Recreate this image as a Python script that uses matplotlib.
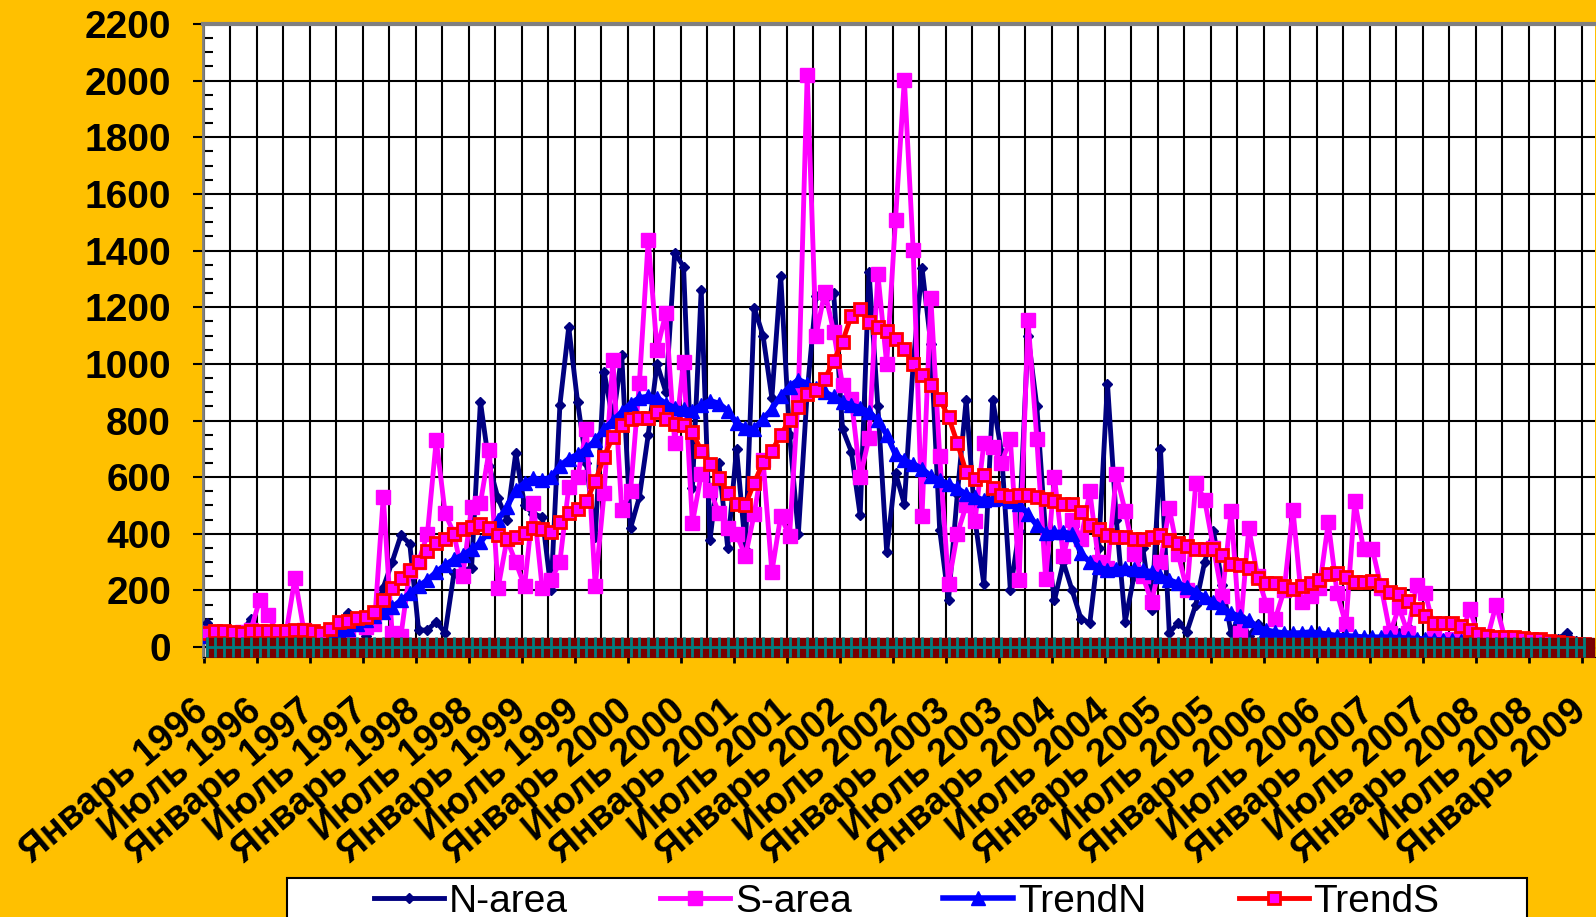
import numpy as np
import matplotlib.pyplot as plt
from matplotlib import font_manager, transforms
from matplotlib.patches import Rectangle

# monthly values, Jan 1996 .. Jan 2009
n_area = [85, 40, 20, 25, 50, 100, 40, 20, 15, 20,
          30, 25, 20, 40, 60, 90, 120, 80, 40, 110,
          210, 300, 395, 365, 60, 60, 90, 50, 260, 270,
          280, 867, 640, 525, 450, 685, 500, 470, 460, 201,
          855, 1130, 866, 650, 390, 973, 800, 1032, 420, 530,
          750, 1000, 900, 1392, 1343, 560, 1262, 378, 650, 350,
          700, 348, 1198, 1100, 880, 1311, 750, 400, 900, 1240,
          1230, 1250, 770, 690, 465, 1325, 850, 336, 615, 505,
          1000, 1340, 1070, 415, 166, 540, 873, 450, 222, 873,
          690, 202, 410, 1100, 850, 400, 165, 300, 200, 100,
          85, 350, 930, 450, 90, 250, 350, 130, 700, 50,
          85, 55, 150, 300, 410, 220, 50, 110, 40, 80,
          30, 20, 25, 15, 20, 30, 20, 15, 20, 25,
          20, 30, 25, 20, 30, 50, 70, 30, 20, 15,
          20, 15, 20, 25, 15, 20, 15, 20, 15, 10,
          15, 20, 15, 30, 49, 20, 15]
s_area = [50, 55, 50, 45, 55, 60, 166, 113, 50, 50,
          244, 60, 50, 30, 20, 40, 60, 80, 70, 80,
          530, 50, 40, 270, 300, 400, 731, 474, 400, 250,
          495, 508, 696, 208, 380, 300, 215, 508, 208, 236,
          301, 565, 600, 769, 215, 543, 1014, 484, 550, 932,
          1438, 1050, 1180, 720, 1008, 437, 610, 555, 473, 420,
          400, 320, 470, 660, 265, 463, 392, 890, 2020, 1100,
          1255, 1113, 925, 876, 600, 739, 1318, 1000, 1509, 2004,
          1403, 463, 1233, 676, 223, 400, 500, 445, 720, 707,
          650, 735, 236, 1156, 735, 240, 600, 320, 450, 380,
          550, 300, 280, 610, 480, 330, 250, 160, 300, 490,
          330, 200, 580, 520, 350, 180, 480, 50, 420, 250,
          150, 100, 200, 485, 160, 180, 210, 440, 190, 80,
          515, 345, 345, 210, 50, 140, 50, 220, 190, 60,
          20, 30, 30, 135, 40, 30, 150, 30, 20, 10,
          10, 5, 5, 5, 5, 5, 5]
trend_n = [40, 40, 40, 40, 40, 40, 40, 40, 40, 40,
           40, 40, 40, 45, 50, 53, 65, 80, 95, 110,
           125, 140, 165, 190, 215, 237, 265, 290, 310, 325,
           345, 370, 410, 450, 495, 555, 580, 597, 590, 600,
           640, 665, 680, 700, 730, 770, 800, 830, 860, 880,
           885, 880, 860, 845, 840, 835, 855, 870, 860, 835,
           790, 775, 770, 805, 840, 887, 920, 944, 930, 915,
           900, 885, 866, 855, 845, 830, 802, 750, 680, 660,
           647, 630, 604, 590, 576, 560, 540, 530, 519, 522,
           527, 515, 505, 470, 430, 403, 405, 405, 400, 332,
           300, 283, 272, 275, 279, 275, 272, 265, 250, 237,
           225, 212, 195, 177, 160, 140, 120, 108, 95, 71,
           60, 53, 50, 49, 50, 53, 50, 45, 40, 40,
           38, 35, 35, 35, 35, 33, 32, 30, 28, 26,
           25, 24, 23, 22, 21, 20, 19, 18, 17, 16,
           15, 14, 13, 12, 11, 10, 10]
trend_s = [50, 57, 57, 53, 50, 57, 57, 57, 57, 57,
           60, 60, 57, 50, 64, 88, 92, 102, 106, 124,
           166, 208, 244, 272, 300, 339, 367, 382, 400, 417,
           424, 436, 421, 394, 382, 389, 403, 421, 417, 408,
           442, 474, 488, 516, 585, 672, 742, 785, 806, 809,
           809, 830, 806, 788, 785, 760, 693, 647, 597, 544,
           505, 502, 580, 652, 693, 749, 802, 848, 894, 908,
           947, 1011, 1078, 1170, 1194, 1149, 1131, 1117, 1088, 1053,
           1000, 961, 926, 876, 813, 721, 618, 594, 608, 562,
           537, 534, 537, 537, 530, 523, 516, 505, 505, 477,
           431, 417, 396, 389, 389, 382, 382, 389, 396, 378,
           367, 357, 346, 346, 346, 325, 293, 290, 279, 244,
           226, 226, 216, 205, 216, 226, 238, 258, 262, 247,
           230, 230, 233, 219, 194, 187, 163, 134, 110, 85,
           85, 85, 74, 60, 46, 39, 35, 35, 35, 32,
           28, 28, 22, 18, 15, 12, 10]
years = list(range(1996, 2009))
tick_labels = []
for y in years:
    tick_labels += ['Январь %d' % y, 'Июль %d' % y]
tick_labels.append('Январь 2009')
series_names = ['N-area', 'S-area', 'TrendN', 'TrendS']

names = {f.name for f in font_manager.fontManager.ttflist}
narrow = 'Liberation Sans Narrow' in names
leg_family = 'Liberation Sans Narrow' if narrow else 'Liberation Sans'
leg_size = 34 if narrow else 28

W, H = 1596, 917
fig = plt.figure(figsize=(W / 100, H / 100), dpi=100, facecolor='#FFC000')
ax = fig.add_axes([203 / W, 1 - 657 / H, (1595 - 203) / W, (657 - 24) / H])
ax.set_facecolor('white')

months = np.arange(len(n_area))
x = months + 0.3

l1, = ax.plot(x, n_area, color='#000080', lw=3.5, marker='D', ms=5, zorder=3)
l2, = ax.plot(x, s_area, color='#FF00FF', lw=3.5, marker='s', ms=9.5, zorder=4)
l3, = ax.plot(x, trend_n, color='#0000FF', lw=4, marker='^', ms=10.5, zorder=5)
l4, = ax.plot(x, trend_s, color='#FF0000', lw=3.5, marker='s', ms=8.5,
              mfc='#FF00FF', mec='#FF0000', mew=2, zorder=6)

# the zero rows along the bottom
zeros = np.zeros(len(months))
for dy in (4.5, -4.5):
    off = ax.transData + transforms.ScaledTranslation(0, dy / 100, fig.dpi_scale_trans)
    ax.plot(x + 0.5, zeros, ls='none', marker='s', ms=6.5, color='#7A0000',
            transform=off, zorder=7)
ax.plot(x, zeros, color='#008080', lw=2, zorder=8)
ax.plot(x, zeros, ls='none', marker='|', ms=14, mew=2, color='#008080', zorder=8)

ax.set_xlim(-0.11, 157.5)
ax.set_ylim(-35, 2200)

ax.set_yticks(np.arange(0, 2201, 200))
ax.set_yticks(np.arange(0, 2201, 50), minor=True)
ax.set_yticklabels([str(v) for v in range(0, 2201, 200)],
                   fontsize=28, fontweight='bold', family='Liberation Sans')
ax.set_xticks(np.arange(0, 157, 6))
ax.set_xticks(np.arange(0, 158, 3), minor=True)
ax.set_xticklabels(tick_labels, rotation=40, ha='right', va='center',
                   rotation_mode='anchor', fontsize=27, fontweight='bold',
                   family='Liberation Sans')
shift = transforms.ScaledTranslation(0.27, 0, fig.dpi_scale_trans)
for t in ax.get_xticklabels():
    t.set_transform(t.get_transform() + shift)

ax.tick_params(axis='y', which='major', direction='out', length=7, width=1.5, pad=16)
ax.tick_params(axis='y', which='minor', direction='in', length=7, width=1.5)
ax.tick_params(axis='x', which='major', direction='out', length=4, width=2, pad=32)
ax.tick_params(axis='x', which='minor', length=0)

ax.set_axisbelow(True)
ax.grid(True, axis='x', which='both', color='black', lw=1.5)
ax.grid(True, axis='y', which='major', color='black', lw=1.5)

ax.spines['right'].set_visible(False)
ax.spines['left'].set_color('#808080')
ax.spines['left'].set_linewidth(2)
ax.spines['top'].set_color('#808080')
ax.spines['top'].set_linewidth(3)

# legend box, cut by the bottom edge
fig.add_artist(Rectangle((287 / W, -0.05), (1527 - 287) / W, 1 - 878 / H + 0.05,
                         transform=fig.transFigure, facecolor='white',
                         edgecolor='black', lw=1.5))
fig.legend([l1, l2, l3, l4], series_names, loc='upper left',
           bbox_to_anchor=(374 / W, 1 - 884 / H), frameon=False, ncol=4,
           prop={'family': leg_family, 'size': leg_size}, numpoints=1,
           handlelength=1.8, handletextpad=0.13, columnspacing=2.36,
           borderpad=0, borderaxespad=0)

fig.savefig('out.png', dpi=100, facecolor=fig.get_facecolor())
